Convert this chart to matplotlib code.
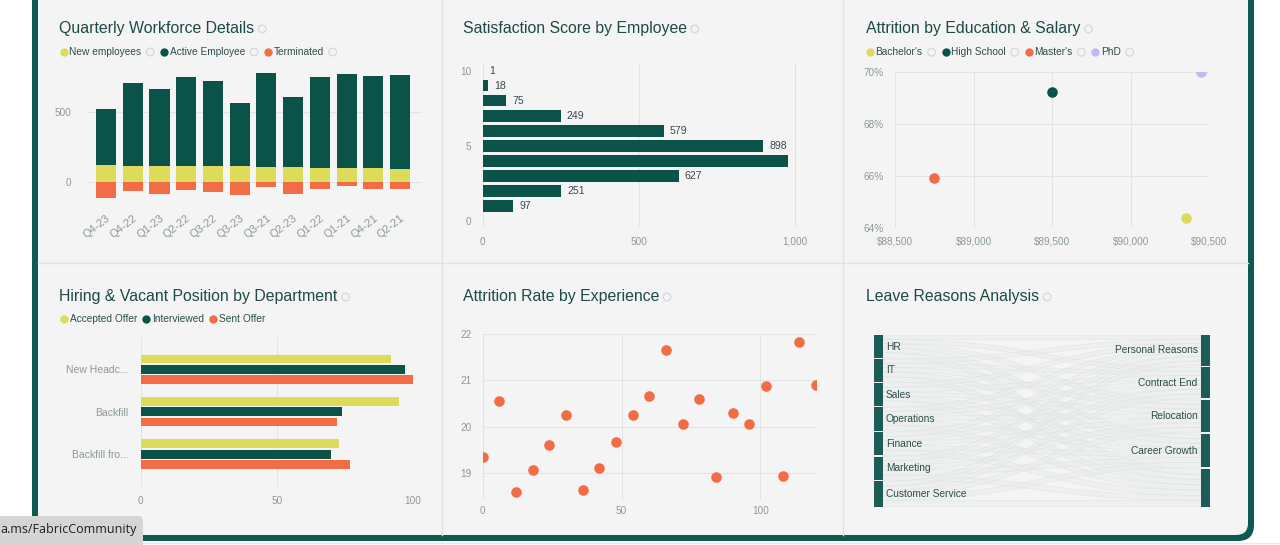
import matplotlib
matplotlib.use('Agg')
import matplotlib.pyplot as plt
from matplotlib.patches import FancyBboxPatch, PathPatch
from matplotlib.path import Path
from matplotlib.ticker import FuncFormatter

# ---------------- data ----------------
quarters = ['Q4-23', 'Q4-22', 'Q1-23', 'Q2-22', 'Q3-22', 'Q3-23', 'Q3-21', 'Q2-23', 'Q1-22', 'Q1-21', 'Q4-21', 'Q2-21']
new_employees = [120, 114, 114, 112, 112, 110, 105, 105, 100, 100, 95, 90]
active_employees = [399, 591, 546, 634, 607, 454, 671, 502, 650, 669, 660, 670]
terminated = [-119, -64, -88, -62, -74, -95, -38, -88, -55, -33, -50, -52]

sat_scores = [1, 2, 3, 4, 5, 6, 7, 8, 9, 10]
sat_counts = [97, 251, 627, 977, 898, 579, 249, 75, 18, 1]

education = ["Bachelor's", "High School", "Master's", "PhD"]
edu_salary = [90350, 89500, 88750, 90450]
edu_attrition = [64.4, 69.25, 65.95, 70.0]

hire_depts = ['New Headc...', 'Backfill', 'Backfill fro...']
accepted_offer = [92, 95, 73]
interviewed = [97, 74, 70]
sent_offer = [100, 72, 77]

experience = [0, 6, 12, 18, 24, 30, 36, 42, 48, 54, 60, 66, 72, 78, 84, 90, 96, 102, 108, 114, 120]
exp_attrition = [19.34, 20.56, 18.60, 19.06, 19.60, 20.26, 18.63, 19.12, 19.68, 20.26, 20.66,
                 21.66, 20.06, 20.59, 18.92, 20.30, 20.05, 20.88, 18.93, 21.83, 20.89]

leave_depts = ['HR', 'IT', 'Sales', 'Operations', 'Finance', 'Marketing', 'Customer Service']
leave_reasons = ['Personal Reasons', 'Contract End', 'Relocation', 'Career Growth', '']
leave_flows = [
    [12, 13, 13, 14, 16],
    [13, 12, 14, 14, 15],
    [13, 14, 13, 14, 16],
    [12, 14, 14, 14, 16],
    [14, 13, 14, 14, 16],
    [13, 14, 14, 15, 15],
    [14, 13, 15, 15, 20],
]

# ---------------- style ----------------
W, H = 1280, 545
DARK = '#0b5349'
YEL = '#dcdc5a'
ORG = '#f26c46'
LAV = '#c7b7f1'
PANEL = '#f4f4f4'
FRAME = '#0f5a50'
TITLE_C = '#1c4b47'
LEG_C = '#2b4f4c'
TICK_C = '#8c9a98'
GRID_C = '#e2e4e4'
HOLLOW_C = '#d6d6e4'
NODE_C = '#1d5c56'

plt.rcParams['font.family'] = ['Liberation Sans', 'DejaVu Sans']

fig = plt.figure(figsize=(W / 100, H / 100), dpi=100)
fig.patch.set_facecolor('white')


def rect(x0, y0, x1, y1):
    return [x0 / W, 1 - y1 / H, (x1 - x0) / W, (y1 - y0) / H]


bg = fig.add_axes([0, 0, 1, 1])
bg.set_xlim(0, W)
bg.set_ylim(H, 0)
bg.axis('off')

# frame
bg.add_patch(FancyBboxPatch((32, -60), 1222, 601, boxstyle='round,pad=0,rounding_size=16',
                            facecolor=FRAME, edgecolor='none'))
bg.add_patch(FancyBboxPatch((38, -60), 1210, 595, boxstyle='round,pad=0,rounding_size=12',
                            facecolor=PANEL, edgecolor='none'))
bg.plot([442, 442], [0, 535], color='#e3e3e3', lw=1)
bg.plot([843, 843], [0, 535], color='#e3e3e3', lw=1)
bg.plot([38, 1248], [263, 263], color='#e3e3e3', lw=1)
bg.plot([0, 1280], [543, 543], color='#e8e8e8', lw=1)

renderer = fig.canvas.get_renderer()


def hollow(x, y):
    bg.scatter([x], [y], s=30, facecolor='none', edgecolor=HOLLOW_C, linewidths=0.9, zorder=6)


def title(x, y, s):
    t = bg.text(x, y, s, fontsize=11.4, color=TITLE_C, va='center', ha='left')
    bb = t.get_window_extent(renderer=renderer)
    hollow(bb.x1 + 8, y + 1)


def legend(x, y, labels, colors, with_hollow=True):
    for lab, col in zip(labels, colors):
        bg.scatter([x], [y], s=36, color=col, zorder=6, linewidths=0)
        t = bg.text(x + 5.5, y, lab, fontsize=7.3, color=LEG_C, va='center', ha='left')
        bb = t.get_window_extent(renderer=renderer)
        if with_hollow:
            hollow(bb.x1 + 9, y)
            x = bb.x1 + 9 + 14
        else:
            x = bb.x1 + 9.5


def style(ax):
    ax.set_facecolor('none')
    for s in ax.spines.values():
        s.set_visible(False)
    ax.tick_params(length=0, labelsize=7.2, labelcolor=TICK_C)
    ax.set_axisbelow(True)


# ---------------- panel 1: Quarterly Workforce Details ----------------
title(59, 28, 'Quarterly Workforce Details')
legend(63.5, 52, ['New employees', 'Active Employee', 'Terminated'], [YEL, DARK, ORG])
ax1 = fig.add_axes(rect(88, 60, 422, 205))
style(ax1)
xs = list(range(len(quarters)))
ax1.bar(xs, new_employees, width=0.75, color=YEL)
ax1.bar(xs, active_employees, bottom=new_employees, width=0.75, color=DARK)
ax1.bar(xs, terminated, width=0.75, color=ORG)
ax1.set_xlim(-0.674, 11.82)
ax1.set_ylim(-166, 869)
ax1.set_yticks([0, 500])
ax1.yaxis.grid(True, color=GRID_C, lw=0.8)
ax1.set_xticks(xs)
ax1.set_xticklabels(quarters, rotation=38, ha='right', va='top', rotation_mode='anchor', fontsize=8)
ax1.tick_params(axis='x', pad=6)
ax1.tick_params(axis='y', pad=12)

# ---------------- panel 2: Satisfaction Score ----------------
title(462.7, 28, 'Satisfaction Score by Employee')
ax2 = fig.add_axes(rect(482.7, 63, 800, 227))
style(ax2)
ax2.barh(sat_scores, sat_counts, height=0.78, color=DARK)
ax2.set_xlim(0, 1015)
ax2.set_ylim(-0.4, 10.5)
ax2.set_xticks([0, 500, 1000])
ax2.xaxis.set_major_formatter(FuncFormatter(lambda v, p: f'{int(v):,}'))
ax2.set_yticks([0, 5, 10])
ax2.xaxis.grid(True, color=GRID_C, lw=0.8)
ax2.tick_params(axis='x', pad=7)
ax2.tick_params(axis='y', pad=8)
for sc, ct in zip(sat_scores, sat_counts):
    if ct + 70 <= 1015:
        ax2.text(ct + 20, sc, f'{ct:,}', fontsize=7.6, color='#3b4a48', va='center', ha='left')

# ---------------- panel 3: Attrition by Education & Salary ----------------
title(866, 28, 'Attrition by Education & Salary')
edu_colors = [YEL, DARK, ORG, LAV]
legend(870, 52.3, education, edu_colors)
ax3 = fig.add_axes(rect(895, 72, 1209.3, 228.3))
style(ax3)
for sx, sy, c in zip(edu_salary, edu_attrition, edu_colors):
    ax3.scatter([sx], [sy], s=58, color=c, linewidths=0, zorder=3)
ax3.set_xlim(88500, 90500)
ax3.set_ylim(64, 70)
ax3.set_xticks([88500, 89000, 89500, 90000, 90500])
ax3.xaxis.set_major_formatter(FuncFormatter(lambda v, p: f'${int(v):,}'))
ax3.set_yticks([64, 66, 68, 70])
ax3.yaxis.set_major_formatter(FuncFormatter(lambda v, p: f'{int(v)}%'))
ax3.grid(True, color=GRID_C, lw=0.8)
ax3.tick_params(axis='x', pad=6)
ax3.tick_params(axis='y', pad=8)

# ---------------- panel 4: Hiring & Vacant Position ----------------
title(59.3, 296, 'Hiring & Vacant Position by Department')
legend(64, 319, ['Accepted Offer', 'Interviewed', 'Sent Offer'], [YEL, DARK, ORG], with_hollow=False)
ax4 = fig.add_axes(rect(140.7, 336.7, 412.7, 486.7))
style(ax4)
ys = list(range(len(hire_depts)))
ax4.barh([y - 0.243 for y in ys], accepted_offer, height=0.21, color=YEL)
ax4.barh(ys, interviewed, height=0.21, color=DARK)
ax4.barh([y + 0.243 for y in ys], sent_offer, height=0.21, color=ORG)
ax4.set_xlim(0, 100)
ax4.set_ylim(2.77, -0.77)
ax4.set_yticks(ys)
ax4.set_yticklabels(hire_depts, fontsize=7.5)
ax4.set_xticks([0, 50, 100])
ax4.xaxis.grid(True, color=GRID_C, lw=0.8)
ax4.tick_params(axis='x', pad=7)
ax4.tick_params(axis='y', pad=9)

# ---------------- panel 5: Attrition Rate by Experience ----------------
title(462.7, 296, 'Attrition Rate by Experience')
ax5 = fig.add_axes(rect(482.7, 334, 816, 500))
style(ax5)
ax5.scatter(experience, exp_attrition, s=58, color=ORG, linewidths=0, zorder=3)
ax5.set_xlim(0, 120)
ax5.set_ylim(18.42, 22)
ax5.set_xticks([0, 50, 100])
ax5.set_yticks([19, 20, 21, 22])
ax5.grid(True, color=GRID_C, lw=0.8)
ax5.tick_params(axis='x', pad=4)
ax5.tick_params(axis='y', pad=8)

# ---------------- panel 6: Leave Reasons Sankey ----------------
title(866, 296, 'Leave Reasons Analysis')
sx0, sy0, sx1, sy1 = 874, 335.3, 1210, 507
ax6 = fig.add_axes(rect(sx0, sy0, sx1, sy1))
ax6.set_xlim(0, sx1 - sx0)
ax6.set_ylim(sy1 - sy0, 0)
ax6.axis('off')
total = sum(sum(r) for r in leave_flows)
height = sy1 - sy0
gap = 1.2
scale = (height - gap * (len(leave_depts) - 1)) / total
node_w_l, node_w_r = 8.7, 9.0
lx, rx = node_w_l, (sx1 - sx0) - node_w_r

left_tot = [sum(r) for r in leave_flows]
right_tot = [sum(leave_flows[i][j] for i in range(len(leave_depts))) for j in range(len(leave_reasons))]
rgap = (height - total * scale) / (len(leave_reasons) - 1)

left_y = []
y = 0
for v in left_tot:
    left_y.append(y)
    y += v * scale + gap
right_y = []
y = 0
for v in right_tot:
    right_y.append(y)
    y += v * scale + rgap

lcur = list(left_y)
rcur = list(right_y)
link_pos = {}
for i in range(len(leave_depts)):
    for j in range(len(leave_reasons)):
        h = leave_flows[i][j] * scale
        link_pos[(i, j)] = [lcur[i], None, h]
        lcur[i] += h
for j in range(len(leave_reasons)):
    for i in range(len(leave_depts)):
        link_pos[(i, j)][1] = rcur[j]
        rcur[j] += link_pos[(i, j)][2]

mid = (lx + rx) / 2
for (i, j), (ya, yb, h) in link_pos.items():
    verts = [(lx, ya), (mid, ya), (mid, yb), (rx, yb), (rx, yb + h),
             (mid, yb + h), (mid, ya + h), (lx, ya + h), (lx, ya)]
    codes = [Path.MOVETO, Path.CURVE4, Path.CURVE4, Path.CURVE4, Path.LINETO,
             Path.CURVE4, Path.CURVE4, Path.CURVE4, Path.CLOSEPOLY]
    ax6.add_patch(PathPatch(Path(verts, codes), facecolor='#e9ecec', alpha=0.5,
                            edgecolor='#d9dede', lw=0.5))

for k, name in enumerate(leave_depts):
    h = left_tot[k] * scale
    ax6.add_patch(plt.Rectangle((0, left_y[k]), node_w_l, h, facecolor=NODE_C, edgecolor='none'))
    ax6.text(node_w_l + 3.3, left_y[k] + h / 2, name, fontsize=7.3, color=LEG_C, va='center', ha='left')
for k, name in enumerate(leave_reasons):
    h = right_tot[k] * scale
    ax6.add_patch(plt.Rectangle((rx, right_y[k]), node_w_r, h, facecolor=NODE_C, edgecolor='none'))
    if name:
        ax6.text(rx - 3.3, right_y[k] + h / 2, name, fontsize=7.3, color=LEG_C, va='center', ha='right')

# ---------------- overlay tab ----------------
bg.add_patch(FancyBboxPatch((-10, 516), 153, 40, boxstyle='round,pad=0,rounding_size=5',
                            facecolor='#d5d5d5', edgecolor='none', zorder=10))
bg.text(0, 530, 'a.ms/FabricCommunity', fontsize=9, color='#1f1f1f', va='center', ha='left',
        family=['Open Sans', 'DejaVu Sans'], zorder=11)

fig.savefig('out.png', dpi=100, facecolor='white')
